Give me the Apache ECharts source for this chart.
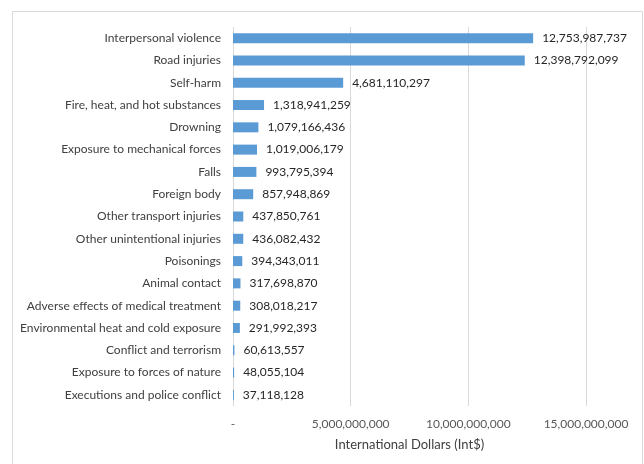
<!DOCTYPE html>
<html>
<head>
<meta charset="utf-8">
<script src="https://cdn.jsdelivr.net/npm/echarts@6/dist/echarts.min.js"></script>
<style>
  html, body { margin: 0; padding: 0; background: #fff; }
  #chart { width: 644px; height: 464px; }
</style>
</head>
<body>
<div id="chart"></div>
<script>
const causes = [
  "Interpersonal violence", "Road injuries", "Self-harm", "Fire, heat, and hot substances",
  "Drowning", "Exposure to mechanical forces", "Falls", "Foreign body",
  "Other transport injuries", "Other unintentional injuries", "Poisonings", "Animal contact",
  "Adverse effects of medical treatment", "Environmental heat and cold exposure",
  "Conflict and terrorism", "Exposure to forces of nature", "Executions and police conflict"
];
const costs = [
  12753987737, 12398792099, 4681110297, 1318941259,
  1079166436, 1019006179, 993795394, 857948869,
  437850761, 436082432, 394343011, 317698870,
  308018217, 291992393,
  60613557, 48055104, 37118128
];
const axisTicks = [0, 5000000000, 10000000000, 15000000000];
const axisTitle = "International Dollars (Int$)";

const fontFam = "Lato, 'Open Sans', sans-serif";
const fmt = v => v === 0 ? "-" : v.toLocaleString("en-US");

const chart = echarts.init(document.getElementById("chart"));
chart.setOption({
  animation: false,
  graphic: [{
    type: "rect",
    shape: { x: 12.5, y: 11.5, width: 630, height: 500 },
    style: { fill: "none", stroke: "#d9d9d9", lineWidth: 1 },
    silent: true
  }],
  grid: { left: 233, right: 58, top: 27, bottom: 58 },
  xAxis: {
    type: "value",
    min: axisTicks[0],
    max: axisTicks[axisTicks.length - 1],
    interval: axisTicks[1] - axisTicks[0],
    name: axisTitle,
    nameLocation: "middle",
    nameGap: 32,
    nameTextStyle: { color: "#404040", fontSize: 13, fontFamily: fontFam },
    axisLine: { show: false },
    axisTick: { show: false },
    axisLabel: { formatter: fmt, color: "#595959", fontSize: 12, fontFamily: fontFam, margin: 12 },
    splitLine: { lineStyle: { color: "#d9d9d9", width: 1 } }
  },
  yAxis: {
    type: "category",
    data: causes,
    inverse: true,
    axisLine: { show: false },
    axisTick: { show: false },
    axisLabel: { color: "#404040", fontSize: 12, fontFamily: fontFam, margin: 12 }
  },
  series: [{
    type: "bar",
    data: costs,
    barWidth: 10,
    itemStyle: { color: "#5b9bd5" },
    label: {
      show: true,
      position: "right",
      distance: 9,
      formatter: p => fmt(p.value),
      color: "#262626",
      fontSize: 12,
      fontFamily: fontFam
    }
  }]
});
</script>
</body>
</html>
